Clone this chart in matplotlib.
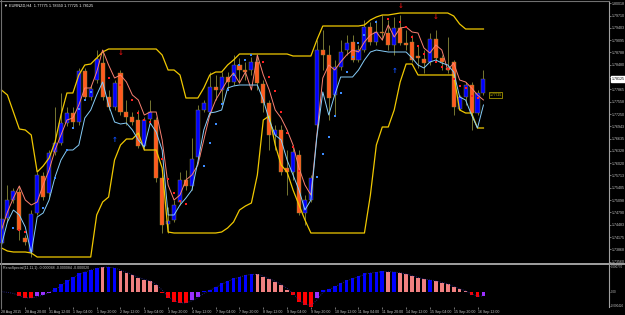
import matplotlib
matplotlib.use("Agg")
import matplotlib.pyplot as plt
import matplotlib.transforms as mtransforms
from matplotlib.lines import Line2D
import numpy as np

# Velas H4 EURNZD, 28 Aug 2015 04:00 -> 16 Sep 2015 12:00
open_ = [1.74025, 1.7465, 1.751, 1.753, 1.7415, 1.738, 1.74775, 1.757, 1.75275, 1.763,
         1.76525, 1.77025, 1.77275, 1.7705, 1.78325, 1.77675, 1.781, 1.78525, 1.77675, 1.77425,
         1.78275, 1.773, 1.77175, 1.771, 1.7645, 1.77125, 1.771, 1.7565, 1.745, 1.746,
         1.7505, 1.756, 1.7545, 1.76175, 1.7735, 1.773, 1.77925, 1.7785, 1.78175, 1.7805,
         1.78475, 1.7835, 1.7835, 1.7855, 1.78, 1.77525, 1.76725, 1.7685, 1.759, 1.758,
         1.76225, 1.74775, 1.751, 1.76975, 1.7885, 1.78725, 1.77725, 1.78425, 1.7885, 1.7905,
         1.786, 1.7885, 1.79425, 1.7905, 1.793, 1.79275, 1.78975, 1.794, 1.79025, 1.7905,
         1.787, 1.78625, 1.7855, 1.79125, 1.7865, 1.784, 1.7855, 1.77375, 1.77675, 1.77975,
         1.77275, 1.77775]
high = [1.748, 1.75475, 1.754, 1.7545, 1.74225, 1.7485, 1.758, 1.758, 1.7635, 1.77425,
        1.77775, 1.77425, 1.77425, 1.784, 1.784, 1.77975, 1.7885, 1.7885, 1.7785, 1.781,
        1.7835, 1.776, 1.773, 1.7735, 1.77175, 1.776, 1.77175, 1.75725, 1.74925, 1.751,
        1.758, 1.7585, 1.7665, 1.77475, 1.776, 1.783, 1.78225, 1.783, 1.783, 1.78725,
        1.7865, 1.7855, 1.78675, 1.78725, 1.781, 1.776, 1.76975, 1.76975, 1.7635, 1.76475,
        1.7635, 1.75225, 1.75725, 1.791, 1.7935, 1.78975, 1.786, 1.791, 1.79225, 1.79225,
        1.78975, 1.796, 1.7955, 1.796, 1.79725, 1.796, 1.79675, 1.79725, 1.7935, 1.79225,
        1.78975, 1.7885, 1.79275, 1.7935, 1.78725, 1.79175, 1.786, 1.77725, 1.7805, 1.7805,
        1.7785, 1.7835]
low = [1.739, 1.7455, 1.75025, 1.741, 1.73975, 1.73675, 1.74725, 1.751, 1.75175, 1.76225,
       1.76475, 1.7695, 1.76925, 1.76975, 1.776, 1.776, 1.78025, 1.776, 1.7735, 1.7735,
       1.77225, 1.76975, 1.76975, 1.764, 1.7635, 1.77025, 1.7555, 1.74275, 1.74275, 1.7455,
       1.74975, 1.7535, 1.7535, 1.761, 1.773, 1.77225, 1.776, 1.77475, 1.7785, 1.77975,
       1.78025, 1.781, 1.78225, 1.7785, 1.773, 1.7635, 1.7635, 1.75725, 1.75225, 1.756,
       1.74725, 1.74475, 1.7505, 1.769, 1.7835, 1.771, 1.77225, 1.7835, 1.78725, 1.7855,
       1.7855, 1.788, 1.78975, 1.78975, 1.791, 1.7885, 1.78725, 1.78975, 1.7885, 1.7855,
       1.784, 1.78275, 1.78475, 1.7855, 1.7835, 1.78275, 1.77225, 1.7735, 1.77475, 1.7685,
       1.77225, 1.77725]
close = [1.74625, 1.751, 1.75325, 1.7435, 1.7405, 1.7475, 1.75725, 1.75175, 1.76275, 1.76525,
         1.77025, 1.77275, 1.7705, 1.78325, 1.77675, 1.77875, 1.78625, 1.77675, 1.77425, 1.78025,
         1.773, 1.77175, 1.7705, 1.7645, 1.771, 1.773, 1.7565, 1.74475, 1.74575, 1.74975,
         1.756, 1.7545, 1.76125, 1.7735, 1.77525, 1.77925, 1.7785, 1.78175, 1.7805, 1.78475,
         1.7835, 1.783, 1.7855, 1.78025, 1.77525, 1.76725, 1.7685, 1.758, 1.758, 1.763,
         1.74775, 1.751, 1.7565, 1.7885, 1.78725, 1.7765, 1.78425, 1.788, 1.79025, 1.786,
         1.7885, 1.79425, 1.7905, 1.793, 1.79275, 1.78975, 1.794, 1.79025, 1.78975, 1.786,
         1.7865, 1.78525, 1.79125, 1.7865, 1.7855, 1.7835, 1.77425, 1.77675, 1.77975, 1.77275,
         1.77775, 1.78125]

# Canal amarillo (superior / inferior)
upper_band = [1.7785, 1.77725, 1.773, 1.76875, 1.7685, 1.76725, 1.758, 1.7595, 1.7615, 1.7655,
              1.77225, 1.77775, 1.77775, 1.78225, 1.78475, 1.785, 1.7865, 1.788, 1.78875, 1.78875,
              1.78875, 1.78875, 1.78875, 1.78875, 1.78875, 1.78875, 1.78875, 1.78725, 1.7835, 1.7835,
              1.78225, 1.7765, 1.7765, 1.7765, 1.779, 1.78225, 1.783, 1.783, 1.78475, 1.786,
              1.7875, 1.7875, 1.7875, 1.7875, 1.7875, 1.7875, 1.7875, 1.7875, 1.7875, 1.787,
              1.787, 1.787, 1.787, 1.791, 1.7945, 1.7945, 1.7945, 1.7945, 1.7945, 1.7945,
              1.7945, 1.79475, 1.796, 1.79675, 1.79725, 1.79725, 1.7975, 1.79775, 1.79775, 1.79775,
              1.79775, 1.79775, 1.79775, 1.79775, 1.79775, 1.79775, 1.797, 1.795, 1.79375, 1.79375,
              1.79375, 1.79375]
lower_band = [1.739, 1.73825, 1.738, 1.738, 1.738, 1.73775, 1.73675, 1.73675, 1.73675, 1.73675,
              1.73675, 1.73675, 1.73675, 1.73675, 1.73675, 1.73675, 1.74725, 1.7505, 1.75175, 1.761,
              1.76475, 1.76625, 1.76625, 1.76775, 1.7635, 1.7635, 1.7635, 1.759, 1.743, 1.74275,
              1.74275, 1.74275, 1.74275, 1.74275, 1.74275, 1.74275, 1.74275, 1.743, 1.744, 1.7455,
              1.7485, 1.7495, 1.75025, 1.75725, 1.771, 1.772, 1.76475, 1.75975, 1.758, 1.7535,
              1.74975, 1.746, 1.74275, 1.74275, 1.74275, 1.74275, 1.74275, 1.74275, 1.74275, 1.74275,
              1.74275, 1.74275, 1.75225, 1.76475, 1.76925, 1.76925, 1.7735, 1.7805, 1.785, 1.785,
              1.78225, 1.78225, 1.78225, 1.78225, 1.78225, 1.78225, 1.78225, 1.7735, 1.77275, 1.77275,
              1.769, 1.769]

# Línea rápida (salmón) y lenta (azul claro)
fast_line = [1.7435, 1.748, 1.7515, 1.7545, 1.751, 1.74975, 1.7505, 1.75475, 1.7585, 1.7635,
             1.76725, 1.771, 1.7715, 1.77475, 1.779, 1.779, 1.783, 1.7885, 1.78475, 1.7815,
             1.78225, 1.7805, 1.77725, 1.776, 1.77225, 1.773, 1.773, 1.766, 1.75475, 1.751,
             1.75225, 1.756, 1.75725, 1.75975, 1.766, 1.77225, 1.776, 1.7785, 1.781, 1.78275,
             1.78025, 1.783, 1.7785, 1.78725, 1.78225, 1.7785, 1.7735, 1.7715, 1.7685, 1.76475,
             1.759, 1.75475, 1.75225, 1.76725, 1.7815, 1.78475, 1.7835, 1.7855, 1.78725, 1.7885,
             1.788, 1.7905, 1.79225, 1.793, 1.791, 1.79475, 1.79175, 1.794, 1.79425, 1.793,
             1.79275, 1.789, 1.78775, 1.78975, 1.7885, 1.7835, 1.78525, 1.781, 1.7805, 1.779,
             1.77725, 1.776]
slow_line = [1.73975, 1.7455, 1.7485, 1.74725, 1.74425, 1.73775, 1.74675, 1.74775, 1.751, 1.75675,
             1.761, 1.7635, 1.7635, 1.76475, 1.7715, 1.7735, 1.77725, 1.7805, 1.77475, 1.7705,
             1.77, 1.77025, 1.7685, 1.766, 1.76425, 1.77025, 1.768, 1.7635, 1.74725, 1.74725,
             1.74975, 1.7515, 1.7535, 1.7605, 1.7685, 1.77275, 1.773, 1.7735, 1.779, 1.7795,
             1.77975, 1.77975, 1.77975, 1.77975, 1.776, 1.771, 1.76725, 1.766, 1.761, 1.75725,
             1.7535, 1.7485, 1.751, 1.76675, 1.778, 1.77225, 1.77725, 1.78175, 1.78175, 1.78175,
             1.7835, 1.786, 1.788, 1.7885, 1.78825, 1.788, 1.788, 1.788, 1.788, 1.7865,
             1.78475, 1.784, 1.7855, 1.786, 1.78525, 1.78475, 1.783, 1.77675, 1.776, 1.77225,
             1.769, 1.77475]

# Puntos rojos / azules
red_idx = [3, 4, 18, 20, 22, 23, 24, 25, 27, 28, 29, 30, 31, 44, 45, 46, 47, 48, 49, 50,
           65, 67, 68, 69, 70, 71, 73, 74, 75, 76, 77, 78, 79, 80]
red_price = [1.7435, 1.743, 1.7815, 1.77975, 1.776, 1.77275, 1.771, 1.7705, 1.76125, 1.75625,
             1.75275, 1.75075, 1.75, 1.7855, 1.78175, 1.77825, 1.773, 1.76775, 1.76425, 1.75825,
             1.79625, 1.7955, 1.79425, 1.79175, 1.7895, 1.7875, 1.7855, 1.78425, 1.78375, 1.78125,
             1.7795, 1.779, 1.777, 1.7765]
blue_idx = [2, 7, 9, 11, 12, 13, 14, 15, 34, 35, 36, 37, 38, 39, 40, 41, 42,
            53, 54, 55, 56, 57, 58, 59, 60, 61, 63]
blue_price = [1.744, 1.749, 1.7565, 1.7635, 1.769, 1.77375, 1.776, 1.778, 1.7595, 1.76525,
              1.77, 1.775, 1.7785, 1.78225, 1.78475, 1.786, 1.78725, 1.75675, 1.7625, 1.76675,
              1.772, 1.77775, 1.783, 1.78675, 1.79025, 1.79225, 1.7955]

# Flechas de señal
sell_idx = [20, 67, 73]
sell_price = [1.78775, 1.7995, 1.79675]
buy_idx = [19, 66]
buy_price = [1.766, 1.78325]

# Histograma del indicador (unidades de 1e-5)
hist = [-1, -1, -2, -13, -20, -20, -13, -10, -3, 10,
        23, 35, 45, 55, 60, 65, 70, 75, 74, 71,
        63, 55, 50, 40, 35, 33, 20, -5, -20, -30,
        -35, -35, -25, -17, 3, 5, 15, 25, 33, 40,
        45, 50, 53, 52, 45, 37, 30, 20, 6, -10,
        -30, -40, -45, -20, 5, 7, 17, 27, 35, 40,
        47, 55, 57, 59, 61, 60, 59, 57, 52, 47,
        42, 37, 35, 33, 27, 23, 15, 7, 1, -10,
        -15, -13]
hist_kind = ['p', 'r', 'r', 'r', 'r', 'r', 'p', 'p', 'p', 'b',
             'b', 'b', 'b', 'b', 'b', 'b', 'b', 's', 'b', 'b',
             's', 's', 's', 's', 's', 's', 's', 'r', 'r', 'r',
             'r', 'r', 'p', 'p', 'b', 'b', 'b', 'b', 'b', 'b',
             'b', 'b', 'b', 's', 's', 's', 's', 's', 's', 'r',
             'r', 'r', 'r', 'p', 'b', 'b', 'b', 'b', 'b', 'b',
             'b', 'b', 'b', 'b', 'b', 's', 'b', 's', 's', 's',
             's', 's', 'b', 's', 's', 's', 's', 's', 's', 'r',
             'r', 'p']
signal = [0, -2, -5, -12, -18, -19, -15, -10, -3, 6,
          18, 30, 41, 51, 59, 65, 70, 73, 74, 71,
          65, 58, 51, 43, 37, 32, 22, 5, -15, -27,
          -33, -34, -27, -18, -5, 4, 13, 22, 31, 38,
          44, 49, 52, 52, 47, 39, 31, 22, 10, -5,
          -25, -37, -42, -25, -2, 6, 14, 24, 32, 39,
          45, 52, 56, 58, 60, 60, 59, 57, 53, 48,
          43, 38, 35, 32, 28, 23, 16, 9, 2, -7,
          -13, -13]

# Ejes
price_ticks = [1.80018, 1.79710, 1.79403, 1.79095, 1.78788, 1.78480, 1.78173, 1.77865,
               1.77558, 1.77250, 1.76943, 1.76635, 1.76328, 1.76020, 1.75713, 1.75405,
               1.75098, 1.74790, 1.74483, 1.74175, 1.73868, 1.73560]
time_labels = ['28 Aug 2015', '28 Aug 20:00', '31 Aug 12:00', '1 Sep 04:00', '1 Sep 20:00',
               '2 Sep 12:00', '3 Sep 04:00', '3 Sep 20:00', '4 Sep 12:00', '7 Sep 04:00',
               '7 Sep 20:00', '8 Sep 12:00', '9 Sep 04:00', '9 Sep 20:00', '10 Sep 12:00',
               '11 Sep 04:00', '11 Sep 20:00', '14 Sep 12:00', '15 Sep 04:00', '15 Sep 20:00',
               '16 Sep 12:00']
ind_ticks = [0.00077, 0.0, -0.00042]
ind_labels = ['0.000770', '0.00', '-0.000420']

last_close = close[-1]
line_label_price = 1.77725

plt.rcParams['font.family'] = ['Liberation Sans', 'DejaVu Sans']
FS = 2.6
TXT = '#C8C8C8'
GRID = '#A0A0A0'

W, H = 625, 315
fig = plt.figure(figsize=(W / 100, H / 100), dpi=100, facecolor='black')
ax = fig.add_axes([0, (H - 262) / H, 609 / W, 261 / H], facecolor='black')
axi = fig.add_axes([0, (H - 307) / H, 609 / W, 42 / H], facecolor='black')

x = np.arange(len(close))
o = np.array(open_)
c = np.array(close)
up = c >= o

# Velas
ax.vlines(x, low, high, color='#8A8A3A', lw=0.6, zorder=2)
body_lo = np.minimum(o, c)
body_h = np.maximum(np.abs(c - o), 0.00008)
ax.bar(x, body_h, bottom=body_lo, width=0.68,
       color=np.where(up, '#0000FF', '#FF5A1F'), edgecolor='#8A8A3A', linewidth=0.3, zorder=2)

# Indicadores sobre el precio
ax.plot(x, upper_band, color='#F0C800', lw=0.9, zorder=3)
ax.plot(x, lower_band, color='#F0C800', lw=0.9, zorder=3)
ax.plot(x, fast_line, color='#FA8072', lw=0.7, zorder=3)
ax.plot(x, slow_line, color='#87CEFA', lw=0.7, zorder=3)
ax.scatter(red_idx, red_price, s=2.2, c='#FF2020', marker='s', linewidths=0, zorder=4)
ax.scatter(blue_idx, blue_price, s=2.2, c='#3C8CFF', marker='s', linewidths=0, zorder=4)
for i, p in zip(sell_idx, sell_price):
    ax.text(i, p, '↓', color='#D01010', fontsize=5, fontweight='bold',
            ha='center', va='center', family='DejaVu Sans', zorder=5)
for i, p in zip(buy_idx, buy_price):
    ax.text(i, p, '↑', color='#1050FF', fontsize=5, fontweight='bold',
            ha='center', va='center', family='DejaVu Sans', zorder=5)

ax.set_xlim(-0.25, 102.1)
ax.set_ylim(1.7355, 1.80075)
ax.set_xticks([])
ax.yaxis.tick_right()
ax.set_yticks(price_ticks)
ax.set_yticklabels([f'{p:.5f}' for p in price_ticks])
ax.tick_params(axis='y', colors=GRID, labelcolor=TXT, labelsize=FS, length=1.5, width=0.5, pad=0.8)
for s in ['left', 'top', 'bottom']:
    ax.spines[s].set_visible(False)
ax.spines['right'].set_color(GRID)
ax.spines['right'].set_linewidth(0.8)

# Etiquetas de precio
trans = mtransforms.blended_transform_factory(ax.transAxes, ax.transData)
ax.text(1.004, last_close, f'{last_close:.5f}', transform=trans, fontsize=FS, color='black',
        ha='left', va='center', clip_on=False, zorder=10,
        bbox=dict(facecolor='white', edgecolor='white', pad=0.6))
ax.text(82, line_label_price, f'{line_label_price:.5f}', fontsize=2.4, color='#E0D000',
        ha='left', va='center', zorder=6,
        bbox=dict(facecolor='black', edgecolor='#C8B400', pad=0.4, linewidth=0.5))
fig.text(4 / W, 1 - 6 / H, '▼ EURNZD,H4  1.77775 1.78350 1.77725 1.78125', color='white',
         fontsize=2.8, va='center', ha='left')

# Panel inferior
hist_colors = {'b': '#0000FF', 's': '#F08080', 'r': '#FF0000', 'p': '#9B30FF'}
axi.bar(x, np.array(hist) * 1e-5, width=0.62, color=[hist_colors[k] for k in hist_kind], zorder=2)
axi.plot(x, np.array(signal) * 1e-5, color='#3030A8', lw=0.6, ls=':', zorder=3)
axi.set_xlim(-0.25, 102.1)
axi.set_ylim(-45.9e-5, 80.1e-5)
axi.yaxis.tick_right()
axi.set_yticks(ind_ticks)
axi.set_yticklabels(ind_labels)
axi.set_xticks(x[::4])
axi.set_xticklabels(time_labels, ha='left')
axi.tick_params(axis='x', colors=GRID, labelcolor=TXT, labelsize=FS, length=1.5, width=0.5, pad=0.8)
axi.tick_params(axis='y', colors=GRID, labelcolor=TXT, labelsize=2.1, length=1.0, width=0.5, pad=0.5)
for s in ['left', 'top', 'bottom']:
    axi.spines[s].set_visible(False)
axi.spines['right'].set_color(GRID)
axi.spines['right'].set_linewidth(0.8)
axi.text(0.005, 0.97, 'RenoSpecial(11,11,1) -0.000048 -0.000084 -0.000020',
         transform=axi.transAxes, color=TXT, fontsize=FS, va='top', ha='left')

# Bordes y separador
fig.add_artist(Line2D([0, 1], [(H - 263.5) / H] * 2, color=GRID, lw=1.4))
fig.add_artist(Line2D([0.5 / W] * 2, [(H - 307) / H, 1], color='#707070', lw=0.8))
fig.add_artist(Line2D([0, 609 / W], [1 - 0.5 / H] * 2, color='#707070', lw=0.8))

fig.savefig('out.png', dpi=100, facecolor='black')
